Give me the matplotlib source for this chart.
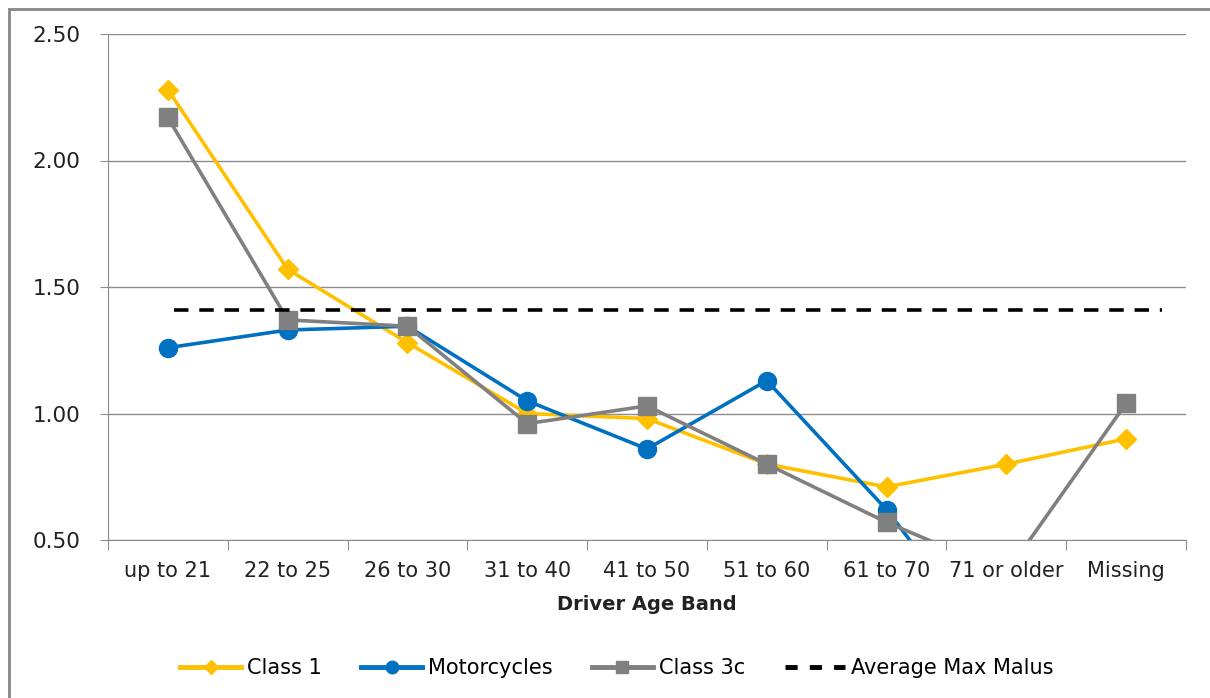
import numpy as np
import matplotlib.pyplot as plt
from matplotlib.lines import Line2D

# Relative frequency by driver age band
age_bands = ["up to 21", "22 to 25", "26 to 30", "31 to 40", "41 to 50",
             "51 to 60", "61 to 70", "71 or older", "Missing"]
class_1 = [2.28, 1.57, 1.28, 1.00, 0.98, 0.80, 0.71, 0.80, 0.90]
motorcycles = [1.26, 1.33, 1.345, 1.05, 0.86, 1.13, 0.62, 0.00, np.nan]
class_3c = [2.17, 1.37, 1.345, 0.96, 1.03, 0.80, 0.57, 0.37, 1.04]
avg_max_malus = 1.41

x = np.arange(len(age_bands))

plt.rcParams["font.family"] = "DejaVu Sans"
fig = plt.figure(figsize=(12.1, 6.98), dpi=100)
ax = fig.add_axes([108 / 1210, 1 - 540 / 698, (1186 - 108) / 1210, (540 - 34) / 698])

# grey frame around the chart area
fig.add_artist(plt.Rectangle((9 / 1210, -0.01), 1.1, 1 - 9 / 698 + 0.01,
                             transform=fig.transFigure, fill=False,
                             edgecolor="#868686", linewidth=2))

ax.plot(x, class_1, color="#FFC000", linewidth=2.6, marker="D", markersize=10,
        label="Class 1")
ax.plot(x, motorcycles, color="#0070C0", linewidth=2.6, marker="o", markersize=13,
        label="Motorcycles")
ax.plot(x, class_3c, color="#808080", linewidth=2.6, marker="s", markersize=12.5,
        label="Class 3c")
ax.plot([x[0] + 0.05, x[-1] + 0.3], [avg_max_malus] * 2, color="black",
        linewidth=2.6, linestyle=(0, (4, 3)), label="Average Max Malus")

ax.set_xlim(-0.5, len(age_bands) - 0.5)
ax.set_ylim(0.5, 2.5)
ax.set_yticks([0.5, 1.0, 1.5, 2.0, 2.5])
ax.set_yticklabels([f"{v:.2f}" for v in [0.5, 1.0, 1.5, 2.0, 2.5]], fontsize=15.5, color="#222222")
ax.yaxis.grid(True, color="#8c8c8c", linewidth=1)
ax.set_axisbelow(True)

# category labels centred, tick marks on the band boundaries
ax.set_xticks(np.arange(len(age_bands) + 1) - 0.5)
ax.set_xticklabels([])
ax.set_xticks(x, minor=True)
ax.set_xticklabels(age_bands, minor=True, fontsize=15, color="#222222")
ax.tick_params(axis="x", which="minor", length=0, pad=15)
ax.tick_params(axis="x", which="major", length=7, color="#8c8c8c")
ax.tick_params(axis="y", length=6, color="#8c8c8c", pad=14)

for side in ["top", "right"]:
    ax.spines[side].set_visible(False)
for side in ["left", "bottom"]:
    ax.spines[side].set_color("#8c8c8c")

ax.set_xlabel("Driver Age Band", fontsize=14, fontweight="bold", color="#222222", labelpad=10)

handles = [
    Line2D([], [], color="#FFC000", linewidth=3.5, marker="D", markersize=7),
    Line2D([], [], color="#0070C0", linewidth=3.5, marker="o", markersize=9),
    Line2D([], [], color="#808080", linewidth=3.5, marker="s", markersize=9),
    Line2D([], [], color="black", linewidth=3.5, linestyle=(0, (2.5, 2.5))),
]
fig.legend(handles, ["Class 1", "Motorcycles", "Class 3c", "Average Max Malus"],
           loc="center", bbox_to_anchor=(0.51, 1 - 668 / 698), ncol=4, frameon=False,
           fontsize=15, handlelength=2.9, columnspacing=1.9, handletextpad=0.3)

fig.savefig("out.png", dpi=100)
